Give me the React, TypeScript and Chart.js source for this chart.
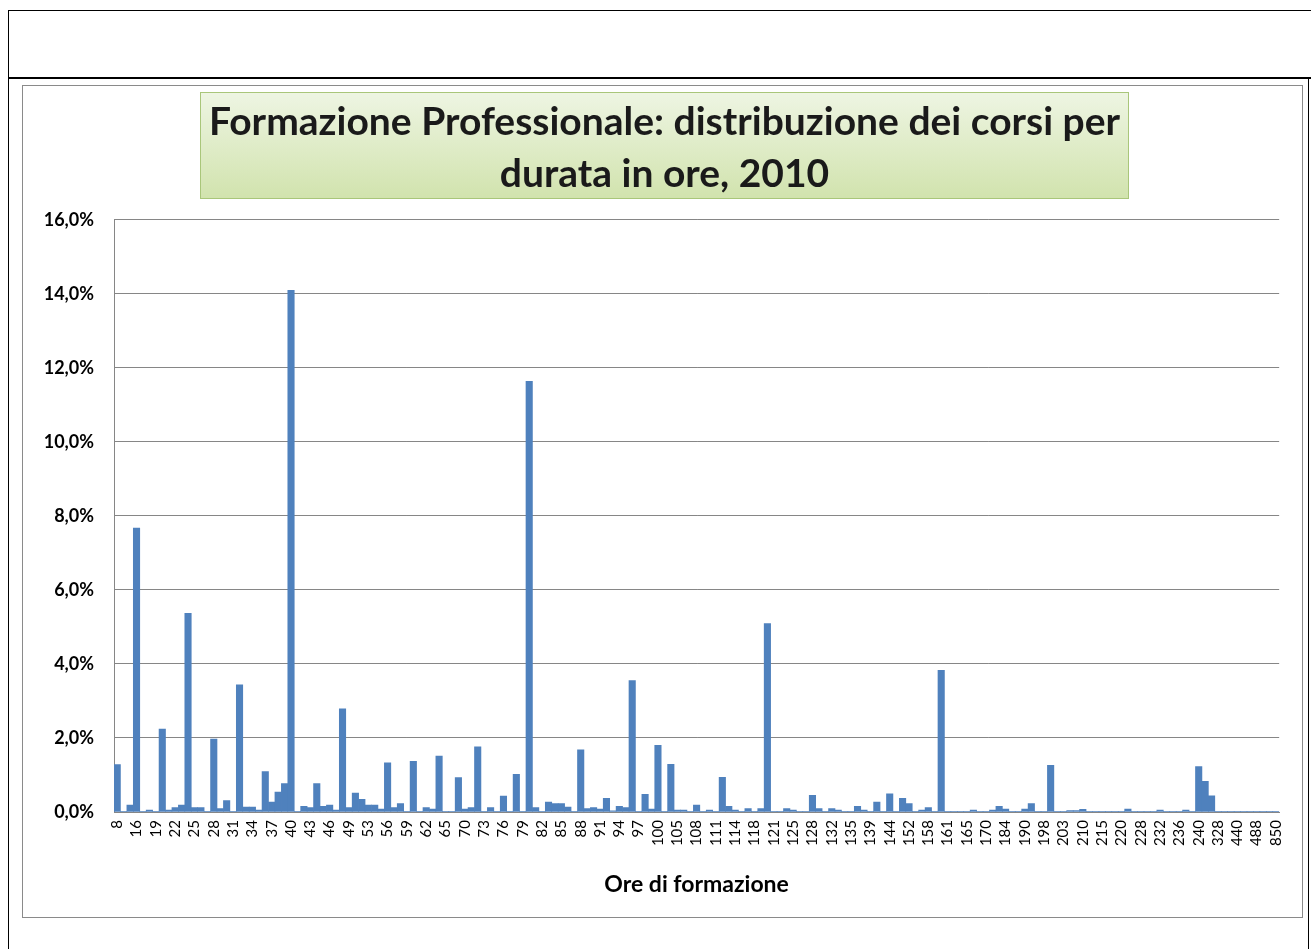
import React, { useEffect, useRef } from "react";
import { Chart, registerables } from "chart.js";

Chart.register(...registerables);

const titleLines = ["Formazione Professionale: distribuzione dei corsi per", "durata in ore, 2010"];
const xAxisTitle = "Ore di formazione";

const hours = [
  8, 12, 15, 16, 17, 18, 19, 20, 21, 22,
  23, 24, 25, 26, 27, 28, 29, 30, 31, 32,
  33, 34, 35, 36, 37, 38, 39, 40, 41, 42,
  43, 44, 45, 46, 47, 48, 49, 50, 52, 53,
  54, 55, 56, 57, 58, 59, 60, 61, 62, 63,
  64, 65, 66, 68, 70, 71, 72, 73, 74, 75,
  76, 77, 78, 79, 80, 81, 82, 83, 84, 85,
  86, 87, 88, 89, 90, 91, 92, 93, 94, 95,
  96, 97, 98, 99, 100, 102, 104, 105, 106, 107,
  108, 109, 110, 111, 112, 113, 114, 115, 116, 118,
  119, 120, 121, 122, 124, 125, 126, 127, 128, 129,
  130, 132, 133, 134, 135, 136, 138, 139, 140, 142,
  144, 148, 150, 152, 154, 156, 158, 159, 160, 161,
  162, 164, 165, 166, 168, 170, 175, 180, 184, 186,
  188, 190, 192, 196, 198, 200, 202, 203, 205, 208,
  210, 212, 214, 215, 216, 218, 220, 224, 225, 228,
  229, 230, 232, 233, 234, 236, 237, 238, 240, 250,
  300, 328, 350, 400, 440, 450, 480, 488, 500, 600,
  850,
];

const shares = [
  1.28, 0.02, 0.19, 7.67, 0.02, 0.05, 0.02, 2.24, 0.05, 0.12,
  0.19, 5.37, 0.12, 0.12, 0.02, 1.97, 0.09, 0.31, 0.02, 3.44,
  0.13, 0.13, 0.05, 1.09, 0.27, 0.54, 0.77, 14.1, 0.02, 0.15,
  0.12, 0.77, 0.15, 0.19, 0.05, 2.79, 0.12, 0.51, 0.34, 0.19,
  0.19, 0.08, 1.33, 0.12, 0.23, 0.02, 1.37, 0.02, 0.12, 0.08,
  1.51, 0.02, 0.02, 0.93, 0.08, 0.12, 1.76, 0.02, 0.12, 0.02,
  0.43, 0.02, 1.02, 0.02, 11.64, 0.12, 0.02, 0.27, 0.23, 0.23,
  0.13, 0.02, 1.68, 0.09, 0.12, 0.08, 0.37, 0.03, 0.15, 0.12,
  3.55, 0.02, 0.48, 0.08, 1.8, 0.02, 1.29, 0.05, 0.05, 0.02,
  0.19, 0.02, 0.05, 0.02, 0.94, 0.15, 0.05, 0.02, 0.09, 0.02,
  0.09, 5.09, 0.02, 0.02, 0.09, 0.05, 0.02, 0.02, 0.45, 0.09,
  0.02, 0.09, 0.05, 0.02, 0.02, 0.15, 0.05, 0.02, 0.27, 0.02,
  0.49, 0.02, 0.37, 0.23, 0.02, 0.05, 0.12, 0.02, 3.83, 0.01,
  0.01, 0.01, 0.01, 0.05, 0.01, 0.01, 0.05, 0.15, 0.08, 0.01,
  0.01, 0.08, 0.23, 0.01, 0.01, 1.26, 0.01, 0.01, 0.04, 0.04,
  0.07, 0.01, 0.01, 0.01, 0.01, 0.01, 0.01, 0.08, 0.01, 0.01,
  0.01, 0.01, 0.05, 0.01, 0.01, 0.01, 0.05, 0.01, 1.23, 0.83,
  0.44, 0.01, 0.01, 0.01, 0.01, 0.01, 0.01, 0.01, 0.01, 0.01,
  0.01,
];

const yMin = 0;
const yMax = 16;
const yStep = 2;
const labelEvery = 3;

const FONT = "Lato, 'Open Sans', 'Noto Sans', sans-serif";

const titleBoxPlugin = {
  id: "titleBox",
  beforeDraw(chart: any) {
    const ctx = chart.ctx;
    const x0 = 177, y0 = 6, w = 929, h = 107;
    ctx.save();
    const g = ctx.createLinearGradient(0, y0, 0, y0 + h);
    g.addColorStop(0, "#eef5e3");
    g.addColorStop(1, "#d1e3ad");
    ctx.fillStyle = g;
    ctx.fillRect(x0, y0, w, h);
    ctx.strokeStyle = "#a9c67a";
    ctx.lineWidth = 1;
    ctx.strokeRect(x0 + 0.5, y0 + 0.5, w - 1, h - 1);
    ctx.restore();
  },
};

export default function App() {
  const ref = useRef<HTMLCanvasElement | null>(null);

  useEffect(() => {
    if (!ref.current) return;
    const labels = hours.map((h) => String(h));
    const chart = new Chart(ref.current, {
      type: "bar",
      data: {
        labels,
        datasets: [
          {
            data: shares,
            backgroundColor: "#4f81bd",
            borderWidth: 0,
            barPercentage: 1,
            categoryPercentage: 1,
          },
        ],
      },
      plugins: [titleBoxPlugin],
      options: {
        animation: false,
        responsive: false,
        maintainAspectRatio: false,
        layout: { padding: { left: 21, right: 17, top: 0, bottom: 0 } },
        plugins: {
          legend: { display: false },
          tooltip: { enabled: false },
          title: {
            display: true,
            text: titleLines,
            color: "#1a1a1a",
            font: { family: FONT, size: 39, weight: "bold", lineHeight: 1.333 },
            padding: { top: 10, bottom: 20 },
          },
        },
        scales: {
          x: {
            grid: { display: false, drawTicks: false },
            border: { display: true, color: "#868686", width: 1 },
            ticks: {
              autoSkip: false,
              minRotation: 90,
              maxRotation: 90,
              padding: 8,
              color: "#000",
              font: { family: FONT, size: 15 },
              callback: (_v: any, i: number) => (i % labelEvery === 0 ? labels[i] : ""),
            },
            title: {
              display: true,
              text: xAxisTitle,
              color: "#000",
              font: { family: FONT, size: 23, weight: "bold", lineHeight: 1.2 },
              padding: { top: 0, bottom: 19 },
            },
            afterFit: (s: any) => {
              s.height = 105;
            },
          },
          y: {
            min: yMin,
            max: yMax,
            grid: { color: "#868686", drawTicks: false },
            border: { display: true, color: "#868686", width: 1 },
            ticks: {
              stepSize: yStep,
              padding: 20,
              color: "#000",
              font: { family: FONT, size: 18, weight: "bold" },
              callback: (v: any) => Number(v).toFixed(1).replace(".", ",") + "%",
            },
            afterFit: (s: any) => {
              s.width = 70;
            },
          },
        },
      },
    });
    return () => chart.destroy();
  }, []);

  return (
    <div style={{ position: "absolute", left: 0, top: 0, width: 1311, height: 949, background: "#fff" }}>
      <div style={{ position: "absolute", left: 8, top: 10, width: 1303, height: 1, background: "#000" }} />
      <div style={{ position: "absolute", left: 8, top: 10, width: 1, height: 939, background: "#000" }} />
      <div style={{ position: "absolute", left: 8, top: 77, width: 1303, height: 2, background: "#000" }} />
      <div style={{ position: "absolute", left: 1308, top: 78, width: 1, height: 871, background: "#000" }} />
      <div
        style={{
          position: "absolute",
          left: 22,
          top: 85,
          width: 1281,
          height: 833,
          boxSizing: "border-box",
          border: "1px solid #8a8a8a",
          background: "#fff",
        }}
      >
        <canvas ref={ref} width={1279} height={831} style={{ display: "block", width: 1279, height: 831 }} />
      </div>
    </div>
  );
}
